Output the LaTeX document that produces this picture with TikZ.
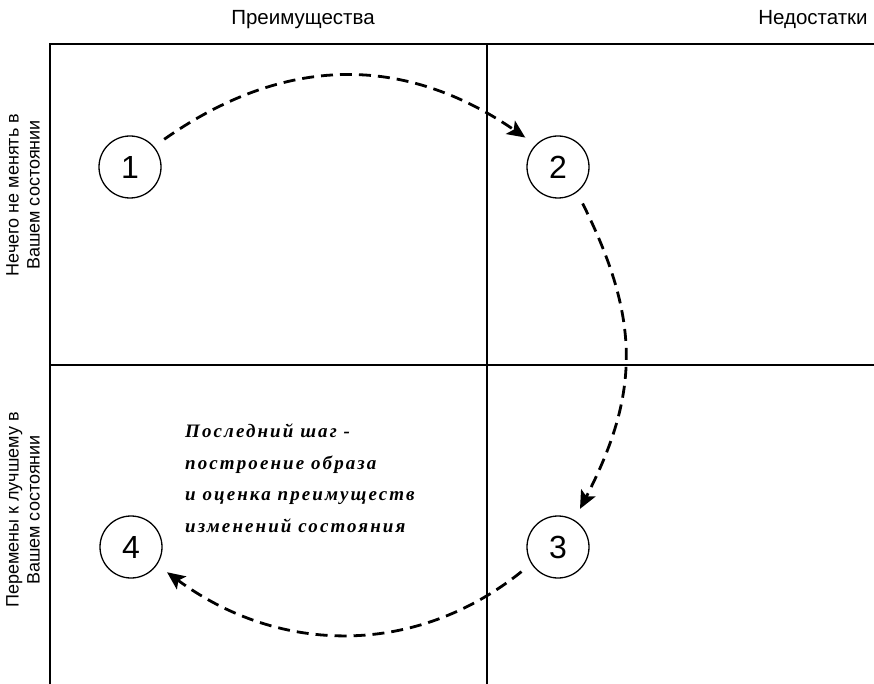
\documentclass[tikz,border=0pt]{standalone}
\usepackage{fontspec}
\setmainfont{Liberation Sans}
\newfontfamily\italfont{Liberation Serif Bold Italic}[LetterSpace=11]
\usetikzlibrary{arrows.meta}
\begin{document}
\begin{tikzpicture}[x=1pt,y=-1pt,
  gridline/.style={line width=1.6pt},
  numcircle/.style={circle,draw,line width=1.3pt,minimum size=62pt,inner sep=0pt,outer sep=13pt,font=\fontsize{32}{32}\selectfont},
  flow/.style={line width=2.8pt,dash pattern=on 12pt off 7pt,-{Stealth[length=18pt,width=16pt,inset=4pt]}},
  header/.style={anchor=base,font=\fontsize{20.5}{21}\selectfont},
  sidelabel/.style={rotate=90,align=center,font=\fontsize{18}{21}\selectfont},
  note/.style={anchor=base west,align=left,inner sep=0pt,font=\fontsize{19}{31.5}\selectfont\italfont}
]
\useasboundingbox (0,0) rectangle (874,684);
\fill[white] (0,0) rectangle (874,684);
% grid
\coordinate (tl) at (50,44);
\coordinate (tr) at (874,44);
\coordinate (bl) at (50,684);
\coordinate (mt) at (487,44);
\coordinate (mb) at (487,684);
\coordinate (ml) at (50,365);
\coordinate (mr) at (874,365);
\draw[gridline] (tr) -- (tl) -- (bl);
\draw[gridline] (mt) -- (mb);
\draw[gridline] (ml) -- (mr);
% headers
\node[header] (h1) at (303,25) {Преимущества};
\node[header] (h2) at (813,25) {Недостатки};
% side labels
\node[sidelabel] (s1) at (23,195) {Нечего не менять в\\Вашем состоянии};
\node[sidelabel] (s2) at (23,510) {Перемены к лучшему в\\Вашем состоянии};
% circles
\node[numcircle] (c1) at (130,167) {1};
\node[numcircle] (c2) at (558,167) {2};
\node[numcircle] (c3) at (558,547) {3};
\node[numcircle] (c4) at (131,547) {4};
% arrows
\draw[flow] (c1.39) .. controls +(121,-85) and +(-121,-83) .. (c2.138);
\draw[flow] (c2.-56) .. controls +(58,116) and +(60,-116) .. (c3.60);
\draw[flow] (c3.-146) .. controls +(-106,85) and +(113,83) .. (c4.-35);
% note
\node[note] (n) at (185,532) {Последний шаг -\\построение образа\\и оценка преимуществ\\изменений состояния};
\end{tikzpicture}
\end{document}
